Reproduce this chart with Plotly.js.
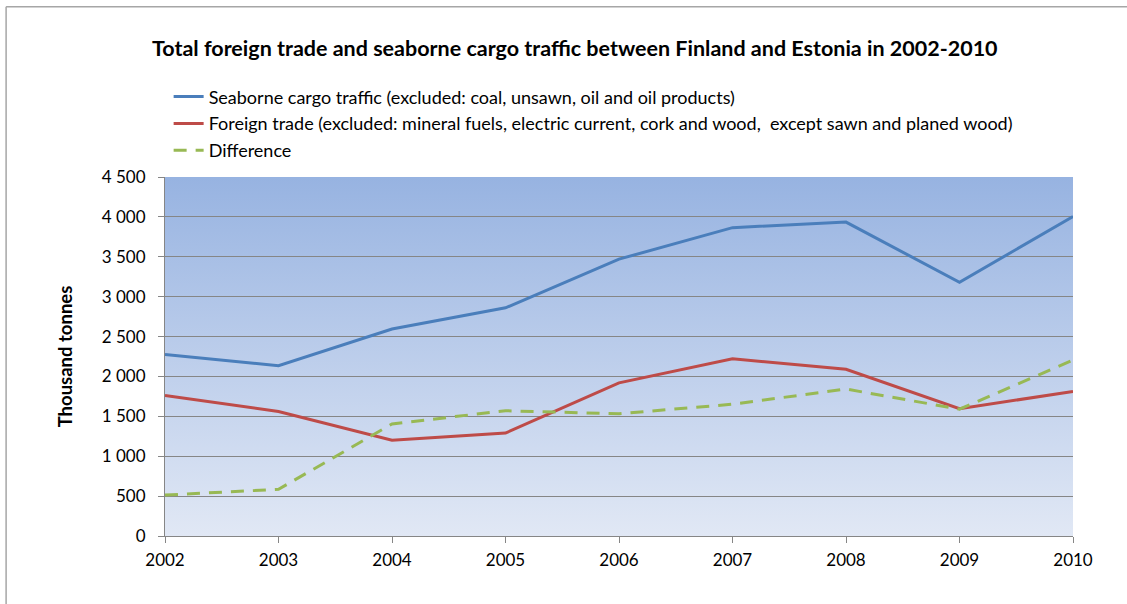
<!DOCTYPE html>
<html>
<head>
<meta charset="utf-8">
<script src="https://cdn.plot.ly/plotly-3.0.1.min.js"></script>
<style>html,body{margin:0;padding:0;background:#fff;}#chart{width:1127px;height:604px;}</style>
</head>
<body>
<div id="chart"></div>
<script>
const years = [2002, 2003, 2004, 2005, 2006, 2007, 2008, 2009, 2010];
const seaborne = [2275, 2135, 2595, 2860, 3470, 3865, 3935, 3180, 4005];
const foreignTrade = [1762, 1560, 1200, 1290, 1920, 2222, 2090, 1595, 1812];
const difference = [513, 585, 1405, 1570, 1532, 1652, 1842, 1590, 2205];
const seriesNames = [
  'Seaborne cargo traffic (excluded: coal, unsawn, oil and oil products)',
  'Foreign trade (excluded: mineral fuels, electric current, cork and wood,  except sawn and planed wood)',
  'Difference'
];
const yTicks = [0, 500, 1000, 1500, 2000, 2500, 3000, 3500, 4000, 4500];

const gradSvg = '<svg xmlns="http://www.w3.org/2000/svg" width="100" height="100" preserveAspectRatio="none">' +
  '<defs><linearGradient id="g" x1="0" y1="0" x2="0" y2="1">' +
  '<stop offset="0" stop-color="#97B3E1"/><stop offset="1" stop-color="#E1E8F5"/>' +
  '</linearGradient></defs><rect width="100" height="100" fill="url(#g)"/></svg>';
const gradUri = 'data:image/svg+xml;base64,' + btoa(gradSvg);

const font = 'Lato, "Open Sans", sans-serif';

const traces = [
  {x: years, y: seaborne, name: seriesNames[0], type: 'scatter', mode: 'lines',
   line: {color: '#4A7EBB', width: 3}, legendgroup: 'a'},
  {x: years, y: foreignTrade, name: seriesNames[1], type: 'scatter', mode: 'lines',
   line: {color: '#BE4B48', width: 3}, legendgroup: 'b'},
  {x: years, y: difference, name: seriesNames[2], type: 'scatter', mode: 'lines',
   line: {color: '#98B954', width: 3, dash: '13px,9px'}, legendgroup: 'c'}
];

const layout = {
  width: 1127, height: 604,
  margin: {l: 165, r: 54, t: 177, b: 68},
  paper_bgcolor: '#ffffff',
  plot_bgcolor: 'rgba(0,0,0,0)',
  separators: ', ',
  font: {family: font, size: 17, color: '#000'},
  title: {text: '<b>Total foreign trade and seaborne cargo traffic between Finland and Estonia in 2002-2010</b>',
          font: {family: font, size: 21.5, color: '#000'}, x: 0.51, xanchor: 'center', y: 0.92, yanchor: 'middle'},
  showlegend: true,
  legend: {x: 0.004, xanchor: 'left', y: 1.275, yanchor: 'top', bgcolor: 'rgba(0,0,0,0)',
           font: {family: font, size: 18, color: '#000'}, traceorder: 'grouped', tracegroupgap: 0.5},
  xaxis: {range: [2002, 2010], tickmode: 'array', tickvals: years, ticktext: years.map(String),
          showgrid: false, showline: true, linecolor: '#868686', linewidth: 1,
          ticks: 'outside', ticklen: 6, tickcolor: '#868686', zeroline: false,
          ticklabelstandoff: 3,
          tickfont: {family: font, size: 17, color: '#000'}},
  yaxis: {range: [0, 4500], tickmode: 'array', tickvals: yTicks, tickformat: ',d',
          showgrid: true, gridcolor: '#868686', gridwidth: 1, zeroline: false,
          showline: true, linecolor: '#868686', linewidth: 1,
          ticks: 'outside', ticklen: 6, tickcolor: '#868686',
          ticklabelstandoff: 9,
          tickfont: {family: font, size: 17, color: '#000'},
          title: {text: '<b>Thousand tonnes</b>', font: {family: font, size: 18.5, color: '#000'}, standoff: 24}},
  images: [{source: gradUri, xref: 'paper', yref: 'paper', x: 0, y: 1, sizex: 1, sizey: 1,
            xanchor: 'left', yanchor: 'top', sizing: 'stretch', layer: 'below'}],
  shapes: [
    {type: 'line', xref: 'paper', yref: 'paper', x0: -0.175, x1: 1.2, y0: 1.474, y1: 1.474,
     line: {color: '#A6A6A6', width: 1.5}},
    {type: 'line', xref: 'paper', yref: 'paper', x0: -0.175, x1: -0.175, y0: 1.474, y1: -0.3,
     line: {color: '#A6A6A6', width: 1.5}}
  ]
};

Plotly.newPlot('chart', traces, layout, {displayModeBar: false, staticPlot: true});
</script>
</body>
</html>
